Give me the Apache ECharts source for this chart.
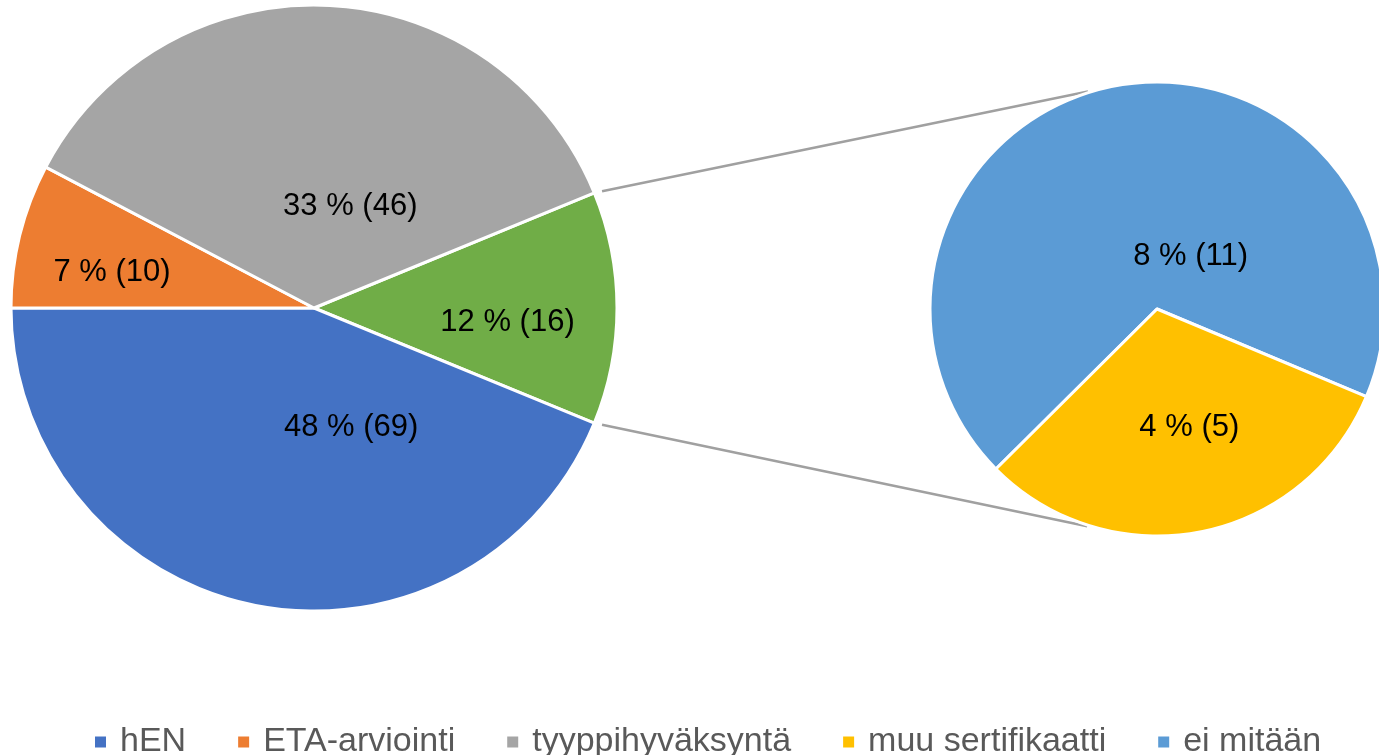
<!DOCTYPE html>
<html>
<head>
<meta charset="utf-8">
<script src="https://cdn.jsdelivr.net/npm/echarts@6/dist/echarts.min.js"></script>
<style>
  html, body { margin: 0; padding: 0; background: #fff; }
  #chart { width: 1379px; height: 755px; }
</style>
</head>
<body>
<div id="chart"></div>
<script>
// main pie, in drawing order (clockwise from the top edge of the "Muut" slice)
const mainNames = ['Muut', 'hEN', 'ETA-arviointi', 'tyyppihyväksyntä']
const mainShares = [12.4, 43.8, 7.7, 36.1] // slice size as drawn, %
const mainPercents = [12, 48, 7, 33]
const mainCounts = [16, 69, 10, 46]

// second pie (breakdown of "Muut")
const subNames = ['ei mitään', 'muu sertifikaatti']
const subCounts = [11, 5]
const subPercents = [8, 4]

const legendNames = ['hEN', 'ETA-arviointi', 'tyyppihyväksyntä', 'muu sertifikaatti', 'ei mitään']

// styling
const mainColors = ['#70AD47', '#4472C4', '#ED7D31', '#A5A5A5']
const subColors = ['#5B9BD5', '#FFC000']
const mainLabelNudge = [[39, 14], [67, -32], [-52, 1], [29, 53]]
const subLabelNudge = [[56, 62], [10, 4]]
const FONT = "'Liberation Sans', Arial, sans-serif"

const chart = echarts.init(document.getElementById('chart'))

const labelStyle = {
  show: true,
  position: 'inside',
  color: '#000',
  fontSize: 31,
  fontFamily: FONT
}

const option = {
  animation: false,
  legend: {
    data: legendNames,
    left: 88,
    top: 719,
    icon: 'rect',
    itemWidth: 13,
    itemHeight: 13,
    itemGap: 50,
    selectedMode: false,
    textStyle: {
      color: '#595959',
      fontSize: 34,
      fontFamily: FONT,
      lineHeight: 36,
      padding: [0, 0, 0, 8]
    }
  },
  series: [
    {
      type: 'pie',
      center: [314, 308],
      radius: 303,
      startAngle: mainShares[0] * 3.6 / 2,
      clockwise: true,
      avoidLabelOverlap: false,
      itemStyle: { borderColor: '#fff', borderWidth: 3 },
      label: {
        ...labelStyle,
        formatter: (p) => `${mainPercents[p.dataIndex]} % (${mainCounts[p.dataIndex]})`
      },
      labelLine: { show: false },
      emphasis: { disabled: true },
      data: mainNames.map((name, i) => ({
        name,
        value: mainShares[i],
        itemStyle: { color: mainColors[i] },
        label: { offset: mainLabelNudge[i] }
      }))
    },
    {
      type: 'pie',
      center: [1157, 309],
      radius: 227,
      startAngle: 224.8,
      clockwise: true,
      avoidLabelOverlap: false,
      itemStyle: { borderColor: '#fff', borderWidth: 3 },
      label: {
        ...labelStyle,
        formatter: (p) => `${subPercents[p.dataIndex]} % (${subCounts[p.dataIndex]})`
      },
      labelLine: { show: false },
      emphasis: { disabled: true },
      data: subNames.map((name, i) => ({
        name,
        value: subCounts[i],
        itemStyle: { color: subColors[i] },
        label: { offset: subLabelNudge[i] }
      }))
    }
  ]
}

chart.setOption(option)

// connector lines: from the tips of the "Muut" slice towards the tangents of the second pie
const drawConnectors = () => {
  const model = chart.getModel()
  const main = model.getSeriesByIndex(0).getData().getItemLayout(0)
  const sub = model.getSeriesByIndex(1).getData().getItemLayout(0)
  const tips = [main.startAngle, main.endAngle].map((a) => [
    main.cx + main.r * Math.cos(a),
    main.cy + main.r * Math.sin(a)
  ]).sort((a, b) => a[1] - b[1])

  const lines = tips.map((p, k) => {
    const dx = p[0] - sub.cx
    const dy = p[1] - sub.cy
    const d = Math.sqrt(dx * dx + dy * dy)
    const base = Math.atan2(dy, dx)
    const off = Math.acos(sub.r / d)
    // upper tip goes to the upper tangent, lower tip to the lower one
    const a = k === 0 ? base + off : base - off
    const t = [sub.cx + sub.r * Math.cos(a), sub.cy + sub.r * Math.sin(a)]
    const from = [p[0] + (t[0] - p[0]) * 0.015, p[1] + (t[1] - p[1]) * 0.015]
    const to = [p[0] + (t[0] - p[0]) * 0.955, p[1] + (t[1] - p[1]) * 0.955]
    return {
      type: 'line',
      silent: true,
      shape: { x1: from[0], y1: from[1], x2: to[0], y2: to[1] },
      style: { stroke: '#A0A0A0', lineWidth: 2.5 }
    }
  })
  chart.setOption({ graphic: lines })
}

drawConnectors()

window.addEventListener('resize', () => chart.resize())
</script>
</body>
</html>
